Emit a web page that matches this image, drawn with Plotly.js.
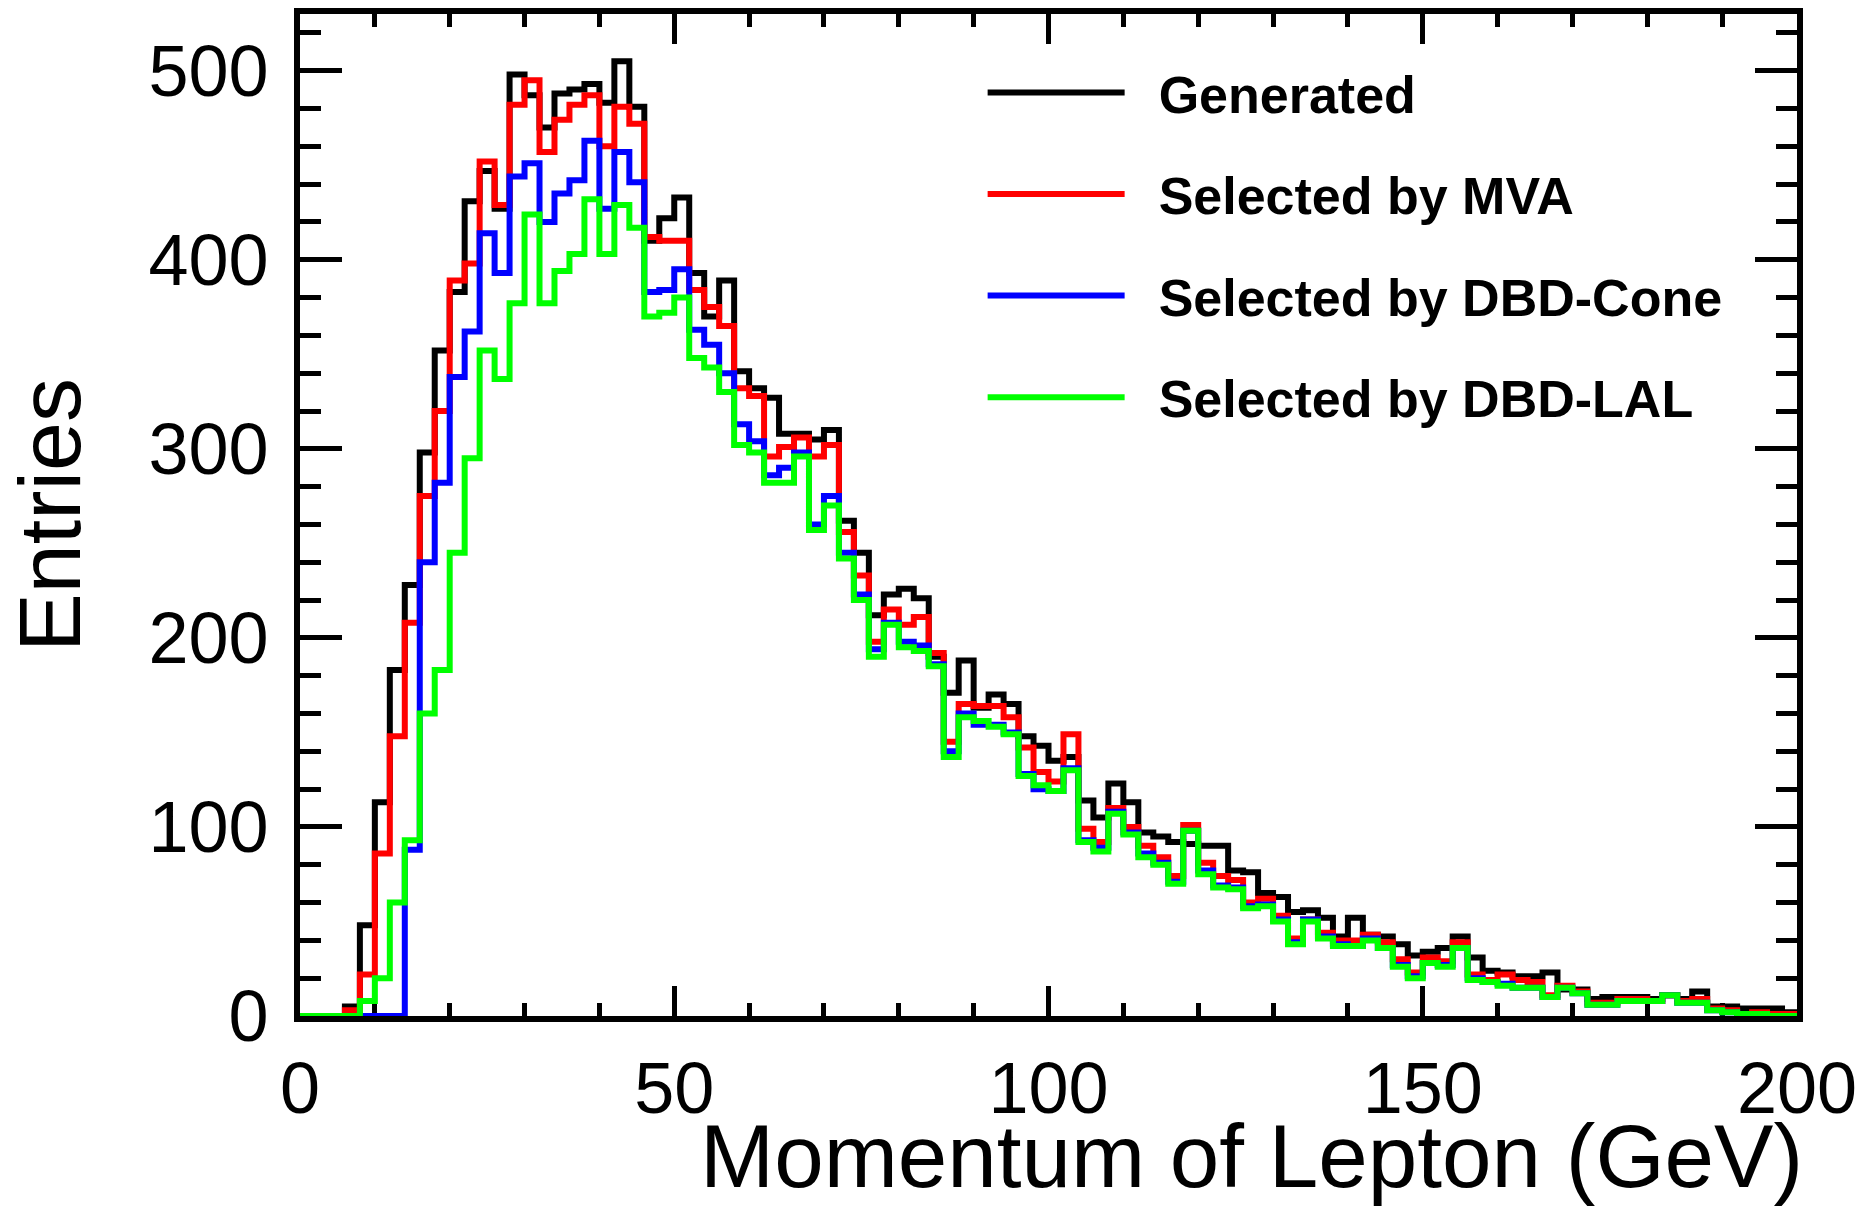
<!DOCTYPE html>
<html><head><meta charset="utf-8">
<script src="https://cdn.plot.ly/plotly-3.0.1.min.js"></script>
<style>html,body{margin:0;padding:0;background:#fff}#chart{width:1870px;height:1212px}</style>
</head><body><div id="chart"></div>
<script>
// Histogram binning: 100 bins of 2 GeV from 0 to 200 GeV
const binLow = 0;
const binWidth = 2;
const nBins = 100;

const generated = [
  0, 0, 0, 5, 48, 113, 183, 228, 298, 352,
  383, 431, 447, 427, 498, 487, 470, 488, 490, 493,
  483, 505, 481, 410, 422, 433, 393, 370, 389, 341,
  332, 327, 308, 308, 305, 310, 262, 245, 212, 223,
  226, 221, 190, 171, 188, 163, 170, 165, 148, 143,
  135, 137, 114, 105, 123, 113, 97, 95, 92, 91,
  90, 90, 77, 76, 65, 63, 55, 56, 52, 42,
  52, 43, 42, 38, 32, 34, 36, 42, 31, 24,
  23, 21, 21, 23, 14, 14, 9, 10, 10, 10,
  9, 11, 9, 13, 5, 5, 4, 4, 4, 2
];
const selectedMVA = [
  0, 0, 0, 3, 22, 86, 148, 208, 275, 320,
  389, 398, 452, 429, 482, 495, 457, 474, 482, 487,
  460, 481, 472, 412, 410, 410, 384, 375, 365, 332,
  328, 296, 301, 306, 296, 302, 256, 233, 198, 215,
  207, 211, 192, 145, 165, 164, 164, 158, 142, 129,
  124, 149, 99, 92, 110, 100, 90, 84, 74, 101,
  81, 74, 72, 60, 62, 53, 41, 51, 44, 40,
  40, 43, 39, 30, 23, 31, 29, 39, 22, 19,
  22, 19, 18, 11, 16, 13, 7, 7, 9, 9,
  8, 11, 8, 9, 4, 3, 1, 2, 1, 1
];
const selectedDBDCone = [
  0, 0, 0, 0, 0, 0, 0, 88, 240, 282,
  338, 362, 414, 393, 444, 451, 420, 435, 442, 463,
  427, 457, 441, 383, 384, 395, 363, 355, 340, 313,
  304, 286, 290, 298, 260, 275, 245, 223, 194, 208,
  198, 196, 186, 140, 160, 154, 154, 150, 128, 120,
  119, 131, 93, 89, 108, 97, 86, 81, 71, 98,
  77, 69, 68, 58, 59, 51, 39, 51, 42, 38,
  37, 41, 36, 27, 21, 28, 27, 36, 20, 18,
  17, 15, 15, 10, 15, 12, 6, 6, 8, 8,
  8, 11, 7, 7, 3, 2, 1, 1, 0, 0
];
const selectedDBDLAL = [
  0, 0, 0, 0, 8, 20, 60, 93, 160, 183,
  245, 295, 352, 337, 377, 424, 377, 394, 403, 432,
  403, 429, 417, 370, 372, 380, 348, 343, 330, 302,
  298, 282, 282, 296, 257, 270, 242, 220, 190, 207,
  195, 193, 185, 137, 158, 156, 153, 149, 127, 122,
  119, 130, 92, 87, 107, 96, 84, 80, 70, 98,
  75, 68, 67, 57, 58, 50, 38, 50, 41, 37,
  37, 40, 36, 26, 20, 28, 26, 36, 19, 18,
  16, 15, 15, 10, 15, 12, 6, 6, 8, 8,
  8, 11, 7, 7, 3, 2, 1, 1, 0, 0
];

const seriesNames = ['Generated', 'Selected by MVA', 'Selected by DBD-Cone', 'Selected by DBD-LAL'];
const xTickVals = [0, 50, 100, 150, 200];
const yTickVals = [0, 100, 200, 300, 400, 500];
const xTitle = 'Momentum of Lepton (GeV)';
const yTitle = 'Entries';

const seriesColors = ['#000000', '#ff0000', '#0000ff', '#00ff00'];
const allSeries = [generated, selectedMVA, selectedDBDCone, selectedDBDLAL];

// bin edges (low edge of every bin plus the last high edge)
const edges = Array.from({length: nBins + 1}, (_, i) => binLow + i * binWidth);

const FONT = 'Liberation Sans, Arial, Helvetica, sans-serif';
const LEGEND_KEY_LEN = 137;

const traces = allSeries.map((vals, k) => ({
  type: 'scatter',
  mode: 'lines',
  name: seriesNames[k],
  legendgroup: 'g' + k,
  x: edges,
  y: vals.concat([vals[vals.length - 1]]),
  line: {shape: 'hv', color: seriesColors[k], width: 6},
  hoverinfo: 'x+y+name'
}));

const layout = {
  width: 1870,
  height: 1212,
  margin: {l: 300, r: 73, t: 14, b: 196},
  paper_bgcolor: '#ffffff',
  plot_bgcolor: '#ffffff',
  showlegend: true,
  legend: {
    x: 0.456, y: 0.962, xanchor: 'left', yanchor: 'top',
    bgcolor: 'rgba(0,0,0,0)', borderwidth: 0,
    font: {family: FONT, size: 52, color: '#000', weight: 'bold'},
    itemwidth: 166,
    tracegroupgap: 31,
    traceorder: 'grouped'
  },
  xaxis: {
    range: [0, 200],
    tickvals: xTickVals,
    ticktext: xTickVals.map(String),
    ticks: 'inside', ticklen: 30, tickwidth: 5, tickcolor: '#000',
    minor: {dtick: 10, ticks: 'inside', ticklen: 13, tickwidth: 5, tickcolor: '#000', showgrid: false},
    showline: true, linewidth: 6, linecolor: '#000', mirror: 'allticks',
    showgrid: false, zeroline: false, layer: 'below traces',
    tickfont: {family: FONT, size: 72, color: '#000'},
    ticklabelstandoff: 5
  },
  yaxis: {
    range: [0, 530],
    tickvals: yTickVals,
    ticktext: yTickVals.map(String),
    ticks: 'inside', ticklen: 42, tickwidth: 5, tickcolor: '#000',
    minor: {dtick: 20, ticks: 'inside', ticklen: 21, tickwidth: 5, tickcolor: '#000', showgrid: false},
    showline: true, linewidth: 6, linecolor: '#000', mirror: 'allticks',
    showgrid: false, zeroline: false, layer: 'below traces',
    tickfont: {family: FONT, size: 72, color: '#000'},
    ticklabelstandoff: 11,
    title: {text: yTitle, font: {family: FONT, size: 88, color: '#000'}, standoff: 48}
  },
  annotations: [{
    text: xTitle, xref: 'paper', yref: 'paper', x: 1.0055, y: -0.140,
    xanchor: 'right', yanchor: 'middle', showarrow: false,
    font: {family: FONT, size: 89, color: '#000'}
  }]
};

Plotly.newPlot('chart', traces, layout, {staticPlot: true, displayModeBar: false}).then(function (gd) {
  // keep the legend key line at the reference length, leaving a gap before the label
  gd.querySelectorAll('.legend .legendlines path').forEach(function (p) {
    var d = p.getAttribute('d') || '';
    var m = d.match(/^M\s*([-\d.]+)\s*,\s*([-\d.]+)/);
    if (m) p.setAttribute('d', 'M' + m[1] + ',' + m[2] + 'h' + LEGEND_KEY_LEN);
  });
});
</script>
</body></html>
